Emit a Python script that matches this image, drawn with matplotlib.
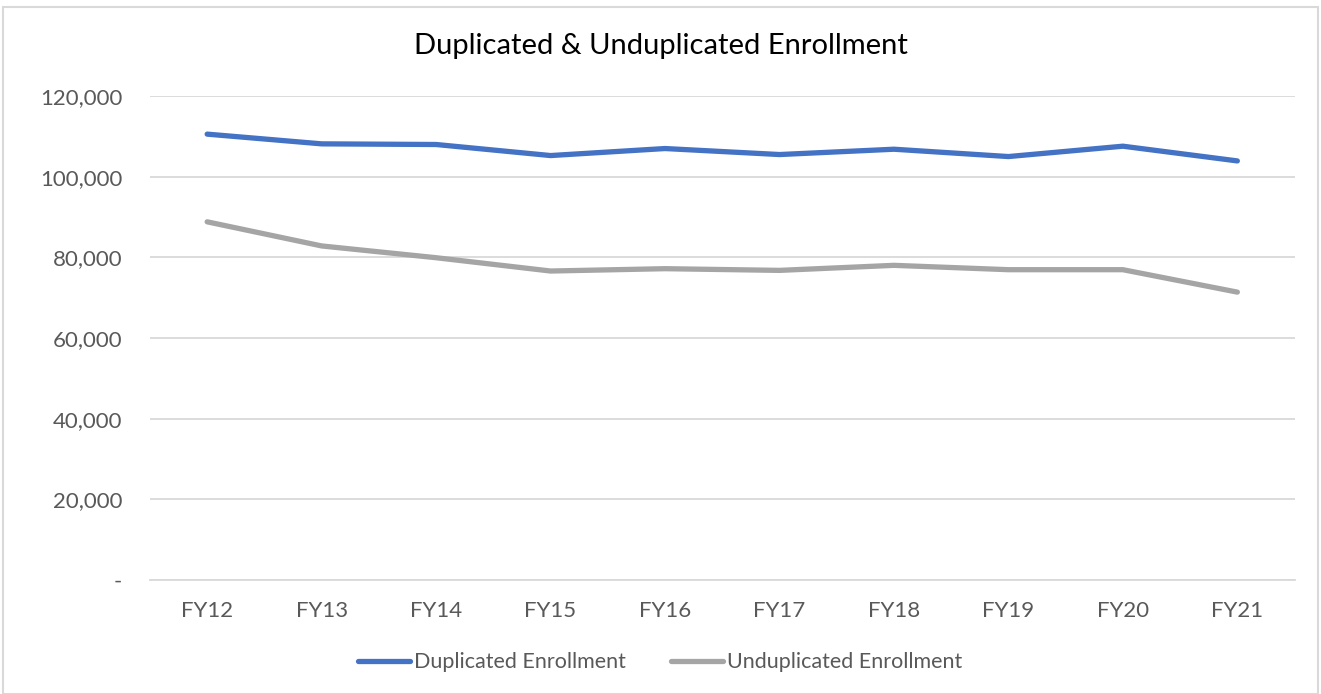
import matplotlib.pyplot as plt
from matplotlib.patches import Rectangle
from matplotlib.ticker import FuncFormatter

years = ["FY12", "FY13", "FY14", "FY15", "FY16", "FY17", "FY18", "FY19", "FY20", "FY21"]
duplicated = [110540, 108130, 107970, 105230, 106970, 105480, 106800, 104980, 107550, 103900]
unduplicated = [88800, 82820, 79900, 76600, 77180, 76760, 78010, 76930, 76930, 71370]

BLUE = "#4472C4"
GRAY = "#A5A5A5"
TEXT = "#595959"

plt.rcParams["font.family"] = ["Lato", "DejaVu Sans"]

fig = plt.figure(figsize=(13.21, 6.94), dpi=100)
ax = fig.add_axes([0.1135, 0.1643, 0.8665, 0.6974])

x = range(len(years))
ax.plot(x, duplicated, color=BLUE, lw=3.8, solid_capstyle="round", label="Duplicated Enrollment")
ax.plot(x, unduplicated, color=GRAY, lw=3.8, solid_capstyle="round", label="Unduplicated Enrollment")

ax.set_ylim(0, 120000)
ax.set_yticks(range(0, 120001, 20000))
ax.yaxis.set_major_formatter(FuncFormatter(lambda v, _: "-" if v == 0 else f"{v:,.0f}"))
ax.set_xlim(-0.5, len(years) - 0.5)
ax.set_xticks(list(x))
ax.set_xticklabels(years)

ax.grid(axis="y", color="#D9D9D9", lw=1.3)
ax.set_axisbelow(True)
for side in ["top", "right", "left"]:
    ax.spines[side].set_visible(False)
ax.spines["bottom"].set_color("#D9D9D9")
ax.spines["bottom"].set_linewidth(1.3)
ax.tick_params(axis="both", length=0, labelsize=16, colors=TEXT)
ax.tick_params(axis="x", pad=15)
ax.tick_params(axis="y", pad=20)

fig.text(0.5, 0.933, "Duplicated & Unduplicated Enrollment", ha="center", va="center",
         fontsize=21, color="black")

fig.legend(loc="center", bbox_to_anchor=(0.5, 0.046), ncol=2, frameon=False,
           fontsize=15.5, handlelength=2.4, handletextpad=0.2, columnspacing=2.1,
           labelcolor=TEXT)

fig.patches.append(Rectangle((0.002, 0.0), 0.996, 0.99, transform=fig.transFigure,
                             fill=False, edgecolor="#D9D9D9", lw=1.5))

fig.savefig("out.png", dpi=100)
